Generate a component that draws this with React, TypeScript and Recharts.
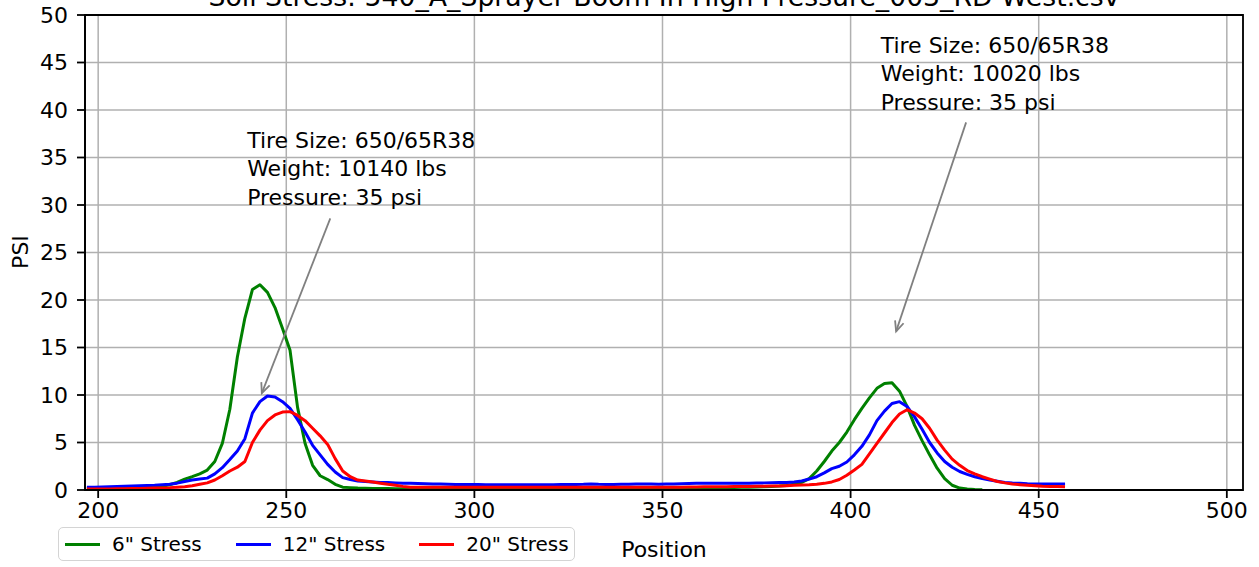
import React from "react";
import {
  LineChart,
  Line,
  XAxis,
  YAxis,
  CartesianGrid,
  Legend,
  ReferenceLine,
  ReferenceDot,
  ReferenceArea,
} from "recharts";

const FONT = "'DejaVu Sans', sans-serif";

const positions = [
  197, 199, 201, 203, 205, 207, 209, 211, 213, 215,
  217, 219, 221, 223, 225, 227, 229, 231, 233, 235,
  237, 239, 241, 243, 245, 247, 249, 251, 253, 255,
  257, 259, 261, 263, 265, 267, 269, 271, 273, 275,
  277, 279, 281, 283, 285, 287, 289, 291, 293, 295,
  297, 299, 301, 303, 305, 307, 309, 311, 313, 315,
  317, 319, 321, 323, 325, 327, 329, 331, 333, 335,
  337, 339, 341, 343, 345, 347, 349, 351, 353, 355,
  357, 359, 361, 363, 365, 367, 369, 371, 373, 375,
  377, 379, 381, 383, 385, 387, 389, 391, 393, 395,
  397, 399, 401, 403, 405, 407, 409, 411, 413, 415,
  417, 419, 421, 423, 425, 427, 429, 431, 433, 435,
  437, 439, 441, 443, 445, 447, 449, 451, 453, 455,
  457,
];

const stress6 = [
  0.15, 0.15, 0.15, 0.18, 0.2, 0.2, 0.22, 0.25, 0.28, 0.3,
  0.4, 0.55, 0.8, 1.15, 1.4, 1.7, 2.1, 3.0, 4.9, 8.5,
  14.0, 18.1, 21.1, 21.6, 20.8, 19.2, 17.0, 14.7, 8.7, 4.9,
  2.6, 1.5, 1.1, 0.6, 0.3, 0.25, 0.2, 0.18, 0.15, 0.15,
  0.15, 0.14, 0.14, 0.13, 0.13, 0.12, 0.12, 0.12, 0.12, 0.12,
  0.12, 0.12, 0.12, 0.12, 0.12, 0.12, 0.12, 0.12, 0.12, 0.12,
  0.12, 0.12, 0.12, 0.12, 0.12, 0.12, 0.12, 0.12, 0.12, 0.12,
  0.12, 0.12, 0.12, 0.13, 0.13, 0.13, 0.14, 0.14, 0.15, 0.15,
  0.16, 0.17, 0.18, 0.2, 0.22, 0.24, 0.26, 0.28, 0.3, 0.32,
  0.35, 0.38, 0.42, 0.48, 0.6, 0.8, 1.2, 2.0, 3.0, 4.1,
  5.0, 6.1, 7.4, 8.6, 9.7, 10.7, 11.2, 11.3, 10.4, 8.8,
  6.8, 5.2, 3.7, 2.3, 1.2, 0.5, 0.2, 0.1, 0.05, 0.02,
  null, null, null, null, null, null, null, null, null, null,
  null,
];

const stress12 = [
  0.3, 0.3, 0.32, 0.35, 0.38, 0.4, 0.42, 0.45, 0.48, 0.5,
  0.55, 0.6, 0.72, 0.9, 1.05, 1.15, 1.25, 1.7, 2.35, 3.2,
  4.1, 5.4, 8.1, 9.3, 9.9, 9.8, 9.3, 8.6, 7.4, 6.1,
  4.7, 3.7, 2.7, 1.9, 1.3, 1.1, 0.95, 0.9, 0.85, 0.8,
  0.78, 0.75, 0.72, 0.7, 0.68, 0.66, 0.64, 0.62, 0.6, 0.58,
  0.58, 0.57, 0.57, 0.56, 0.56, 0.56, 0.56, 0.56, 0.56, 0.56,
  0.56, 0.56, 0.56, 0.57, 0.57, 0.58, 0.6, 0.64, 0.6, 0.58,
  0.58, 0.6, 0.6, 0.62, 0.64, 0.62, 0.6, 0.62, 0.64, 0.66,
  0.68, 0.7, 0.7, 0.7, 0.7, 0.7, 0.7, 0.72, 0.72, 0.74,
  0.75, 0.76, 0.78, 0.8, 0.85, 0.95, 1.15, 1.4, 1.8, 2.25,
  2.5, 2.95, 3.7, 4.6, 5.8, 7.3, 8.3, 9.1, 9.3, 8.8,
  7.7, 6.4, 5.0, 3.9, 3.0, 2.4, 1.95, 1.65, 1.4, 1.2,
  1.05, 0.92, 0.8, 0.74, 0.7, 0.66, 0.64, 0.63, 0.63, 0.63,
  0.63,
];

const stress20 = [
  0.1, 0.1, 0.1, 0.1, 0.12, 0.12, 0.15, 0.15, 0.18, 0.2,
  0.22, 0.25, 0.3, 0.35, 0.45, 0.6, 0.75, 1.05, 1.5, 2.0,
  2.4, 3.0, 5.0, 6.3, 7.3, 7.9, 8.2, 8.25, 7.85, 7.3,
  6.5, 5.7, 4.8, 3.3, 2.0, 1.4, 1.05, 0.95, 0.85, 0.72,
  0.6, 0.5, 0.38, 0.3, 0.3, 0.3, 0.3, 0.3, 0.3, 0.3,
  0.3, 0.3, 0.3, 0.3, 0.3, 0.3, 0.3, 0.3, 0.3, 0.3,
  0.3, 0.3, 0.3, 0.3, 0.3, 0.3, 0.3, 0.3, 0.3, 0.3,
  0.3, 0.3, 0.3, 0.3, 0.3, 0.3, 0.3, 0.3, 0.3, 0.3,
  0.32, 0.32, 0.33, 0.33, 0.34, 0.35, 0.36, 0.38, 0.38, 0.4,
  0.4, 0.42, 0.43, 0.46, 0.5, 0.52, 0.55, 0.6, 0.7, 0.85,
  1.1, 1.55, 2.1, 2.7, 3.8, 4.9, 6.0, 7.1, 8.0, 8.45,
  8.1, 7.5, 6.5, 5.25, 4.2, 3.25, 2.6, 2.05, 1.7, 1.4,
  1.15, 0.9, 0.75, 0.63, 0.56, 0.5, 0.45, 0.4, 0.38, 0.36,
  0.35,
];

const seriesKeys = ["s6", "s12", "s20"];
const seriesNames = ['6" Stress', '12" Stress', '20" Stress'];
const seriesColors = ["#008000", "#0000ff", "#ff0000"];

const xTicks = [200, 250, 300, 350, 400, 450, 500];
const yTicks = [0, 5, 10, 15, 20, 25, 30, 35, 40, 45, 50];
const xDomain = [196.5, 504.3];
const yDomain = [0, 50];

const title = "Soil Stress: 540_A_Sprayer Boom In High Pressure_003_RD West.csv";

// tire annotations: text anchor (first baseline), arrow tail -> arrow tip
const noteLines = [
  ["Tire Size: 650/65R38", "Weight: 10140 lbs", "Pressure: 35 psi"],
  ["Tire Size: 650/65R38", "Weight: 10020 lbs", "Pressure: 35 psi"],
];
const noteAnchor = [
  [239.6, 36.0],
  [408.0, 46.0],
];
const arrowTail = [
  [261.7, 28.6],
  [430.7, 38.7],
];
const arrowTip = [
  [243.5, 10.2],
  [412.1, 16.7],
];

const data = positions.map((p, i) => ({
  pos: p,
  s6: stress6[i],
  s12: stress12[i],
  s20: stress20[i],
}));

const ArrowShape = (p: any) => {
  const { x1, y1, x2, y2 } = p;
  const ang = Math.atan2(y2 - y1, x2 - x1);
  const len = 11;
  const spread = 0.42;
  const ax = x2 + len * Math.cos(ang + Math.PI - spread);
  const ay = y2 + len * Math.sin(ang + Math.PI - spread);
  const bx = x2 + len * Math.cos(ang + Math.PI + spread);
  const by = y2 + len * Math.sin(ang + Math.PI + spread);
  return (
    <g>
      <line x1={x1} y1={y1} x2={x2} y2={y2} stroke="#808080" strokeWidth={1.8} />
      <polyline
        points={`${ax},${ay} ${x2},${y2} ${bx},${by}`}
        fill="none"
        stroke="#808080"
        strokeWidth={1.8}
      />
    </g>
  );
};

const noteShape = (lines: string[]) => (p: any) => (
  <text x={p.cx} y={p.cy} fontSize={22} fontFamily={FONT} fill="#000">
    {lines.map((t, i) => (
      <tspan key={i} x={p.cx} dy={i === 0 ? 0 : 28.3}>
        {t}
      </tspan>
    ))}
  </text>
);

const renderLegend = () => (
  <div
    style={{
      boxSizing: "border-box",
      width: 517,
      height: 34,
      border: "1.5px solid #d4d4d4",
      borderRadius: 5,
      background: "rgba(255,255,255,0.8)",
      display: "flex",
      alignItems: "center",
      paddingLeft: 6,
      fontFamily: FONT,
      fontSize: 20,
      color: "#000",
    }}
  >
    {seriesNames.map((name, i) => (
      <div key={name} style={{ display: "flex", alignItems: "center", marginRight: 34 }}>
        <span style={{ display: "inline-block", width: 35, height: 3, background: seriesColors[i] }} />
        <span style={{ marginLeft: 12, whiteSpace: "pre" }}>{name}</span>
      </div>
    ))}
  </div>
);

const psiLabel = () => (
  <text
    x={20}
    y={252}
    transform="rotate(-90 20 252)"
    textAnchor="middle"
    dominantBaseline="central"
    fontSize={22}
    fontFamily={FONT}
    fill="#000"
  >
    PSI
  </text>
);

export default function App() {
  return (
    <div
      style={{
        position: "absolute",
        left: 0,
        top: 0,
        width: 1259,
        height: 567,
        background: "#fff",
        fontFamily: FONT,
        overflow: "hidden",
      }}
    >
      <div
        style={{
          position: "absolute",
          left: 0,
          width: 1328,
          top: -16,
          fontSize: 26.7,
          lineHeight: 1,
          textAlign: "center",
          whiteSpace: "nowrap",
          color: "#000",
          zIndex: 2,
        }}
      >
        {title}
      </div>
      <LineChart width={1259} height={567} data={data} margin={{ top: 15, right: 16, bottom: 0, left: 0 }}>
        <CartesianGrid stroke="#b0b0b0" strokeWidth={1.5} />
        <XAxis
          dataKey="pos"
          type="number"
          domain={xDomain}
          ticks={xTicks}
          allowDataOverflow
          height={77}
          axisLine={{ stroke: "#000", strokeWidth: 1.8 }}
          tickLine={{ stroke: "#000", strokeWidth: 1.8 }}
          tickSize={8}
          tickMargin={4}
          tick={{ fill: "#000", fontSize: 22, fontFamily: FONT }}
          label={{ value: "Position", position: "insideBottom", offset: 10, fill: "#000", fontSize: 22, fontFamily: FONT }}
        />
        <YAxis
          type="number"
          domain={yDomain}
          ticks={yTicks}
          allowDataOverflow
          width={85}
          axisLine={{ stroke: "#000", strokeWidth: 1.8 }}
          tickLine={{ stroke: "#000", strokeWidth: 1.8 }}
          tickSize={8}
          tickMargin={9}
          tick={{ fill: "#000", fontSize: 22, fontFamily: FONT }}
          label={{ content: psiLabel }}
        />
        <ReferenceArea
          x1={xDomain[0]}
          x2={xDomain[1]}
          y1={yDomain[0]}
          y2={yDomain[1]}
          fill="none"
          fillOpacity={0}
          stroke="#000"
          strokeWidth={1.8}
        />
        {seriesKeys.map((k, i) => (
          <Line
            key={k}
            dataKey={k}
            name={seriesNames[i]}
            type="linear"
            stroke={seriesColors[i]}
            strokeWidth={3}
            strokeLinejoin="round"
            dot={false}
            activeDot={false}
            connectNulls={false}
            isAnimationActive={false}
          />
        ))}
        {arrowTail.map((t, i) => (
          <ReferenceLine
            key={`arrow${i}`}
            segment={[
              { x: t[0], y: t[1] },
              { x: arrowTip[i][0], y: arrowTip[i][1] },
            ]}
            shape={ArrowShape}
          />
        ))}
        {noteAnchor.map((a, i) => (
          <ReferenceDot key={`note${i}`} x={a[0]} y={a[1]} r={0} shape={noteShape(noteLines[i])} />
        ))}
        <Legend
          content={renderLegend}
          layout="horizontal"
          verticalAlign="middle"
          align="center"
          wrapperStyle={{ left: 58, top: 527, width: 517, height: 34 }}
        />
      </LineChart>
    </div>
  );
}
